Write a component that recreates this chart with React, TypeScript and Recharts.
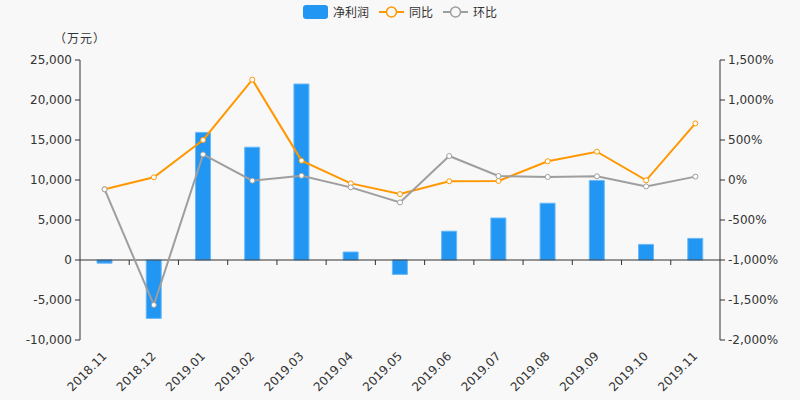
import React from 'react';
import { ComposedChart, Bar, Line, XAxis, YAxis, ReferenceLine } from 'recharts';

const months = ['2018.11', '2018.12', '2019.01', '2019.02', '2019.03', '2019.04', '2019.05', '2019.06', '2019.07', '2019.08', '2019.09', '2019.10', '2019.11'];
const netProfit = [-400, -7300, 15950, 14100, 22000, 1000, -1800, 3600, 5250, 7100, 9950, 1950, 2700];
const yoy = [-116, 34, 500, 1254, 242, -42, -176, -16, -12, 234, 354, -4, 708];
const qoq = [-116, -1562, 320, -8, 54, -92, -280, 300, 50, 38, 46, -80, 42];
const leftTicks = [-10000, -5000, 0, 5000, 10000, 15000, 20000, 25000];
const rightTicks = [-2000, -1500, -1000, -500, 0, 500, 1000, 1500];

const data = months.map((m, i) => ({ idx: i, month: m, profit: netProfit[i], yoy: yoy[i], qoq: qoq[i] }));
const boundaries = months.slice(1).map((_, i) => i + 0.5);

const FONT = '"DejaVu Sans", "Noto Sans CJK SC", sans-serif';
const CJK = '"Noto Sans CJK SC", sans-serif';
const BLUE = '#2196F3';
const ORANGE = '#FF9800';
const GRAY = '#9E9E9E';

const fmt = (v: number) => v.toLocaleString('en-US');

const XTick = (props: any) => {
  const { x, y, payload } = props;
  return (
    <text
      x={x}
      y={y}
      transform={`rotate(-45 ${x} ${y})`}
      textAnchor="end"
      dominantBaseline="central"
      fontSize={12}
      fill="#333"
      fontFamily={FONT}
    >
      {months[payload.value]}
    </text>
  );
};

const LegendBar = () => (
  <div style={{ position: 'absolute', top: 3, left: 0, width: 800, display: 'flex', justifyContent: 'center', alignItems: 'center', fontFamily: CJK, fontSize: 12, color: '#333' }}>
    <div style={{ display: 'flex', alignItems: 'center', marginRight: 10 }}>
      <div style={{ width: 25, height: 14, background: BLUE, borderRadius: 3, marginRight: 5 }} />
      <span>净利润</span>
    </div>
    <div style={{ display: 'flex', alignItems: 'center', marginRight: 10 }}>
      <svg width={25} height={14} style={{ marginRight: 5 }}>
        <line x1={0} y1={7} x2={25} y2={7} stroke={ORANGE} strokeWidth={2} />
        <circle cx={12.5} cy={7} r={5} fill="#f8f8f8" stroke={ORANGE} strokeWidth={1.5} />
      </svg>
      <span>同比</span>
    </div>
    <div style={{ display: 'flex', alignItems: 'center' }}>
      <svg width={25} height={14} style={{ marginRight: 5 }}>
        <line x1={0} y1={7} x2={25} y2={7} stroke={GRAY} strokeWidth={2} />
        <circle cx={12.5} cy={7} r={5} fill="#f8f8f8" stroke={GRAY} strokeWidth={1.5} />
      </svg>
      <span>环比</span>
    </div>
  </div>
);

export default function App() {
  return (
    <div style={{ position: 'fixed', top: 0, left: 0, width: 800, height: 400, background: '#F8F8F8', overflow: 'hidden' }}>
      <LegendBar />
      <div style={{ position: 'absolute', top: 29, left: 54, fontFamily: CJK, fontSize: 12, letterSpacing: 1, color: '#333' }}>（万元）</div>
      <div style={{ position: 'absolute', top: 0, left: 0 }}>
        <ComposedChart width={800} height={400} data={data} margin={{ top: 60, right: 0, left: 0, bottom: 0 }}>
          <XAxis
            dataKey="idx"
            type="number"
            domain={[-0.5, 12.5]}
            ticks={months.map((_, i) => i)}
            interval={0}
            axisLine={false}
            tickLine={false}
            tickSize={0}
            tickMargin={14}
            tick={<XTick />}
            height={60}
            allowDataOverflow
          />
          <YAxis
            yAxisId="left"
            orientation="left"
            width={80}
            domain={[-10000, 25000]}
            ticks={leftTicks}
            tickFormatter={fmt}
            axisLine={{ stroke: '#333' }}
            tickLine={{ stroke: '#333' }}
            tickSize={5}
            tickMargin={3}
            tick={{ fill: '#333', fontSize: 12, fontFamily: FONT }}
            interval={0}
          />
          <YAxis
            yAxisId="right"
            orientation="right"
            width={80}
            domain={[-2000, 1500]}
            ticks={rightTicks}
            tickFormatter={(v: number) => fmt(v) + '%'}
            axisLine={{ stroke: '#333' }}
            tickLine={{ stroke: '#333' }}
            tickSize={5}
            tickMargin={3}
            tick={{ fill: '#333', fontSize: 12, fontFamily: FONT }}
            interval={0}
          />
          <ReferenceLine yAxisId="left" y={0} stroke="#333" strokeWidth={1} />
          {boundaries.map((b) => (
            <ReferenceLine
              key={b}
              yAxisId="left"
              segment={[{ x: b, y: 0 }, { x: b, y: -625 }]}
              stroke="#333"
              strokeWidth={1}
            />
          ))}
          <Bar yAxisId="left" dataKey="profit" fill={BLUE} stroke="#6CB8F6" strokeWidth={1} barSize={15} isAnimationActive={false} />
          <Line yAxisId="right" dataKey="yoy" stroke={ORANGE} strokeWidth={2} dot={{ r: 2.5, fill: '#fff', stroke: ORANGE, strokeWidth: 1 }} activeDot={false} isAnimationActive={false} />
          <Line yAxisId="right" dataKey="qoq" stroke={GRAY} strokeWidth={2} dot={{ r: 2.5, fill: '#fff', stroke: GRAY, strokeWidth: 1 }} activeDot={false} isAnimationActive={false} />
        </ComposedChart>
      </div>
    </div>
  );
}
